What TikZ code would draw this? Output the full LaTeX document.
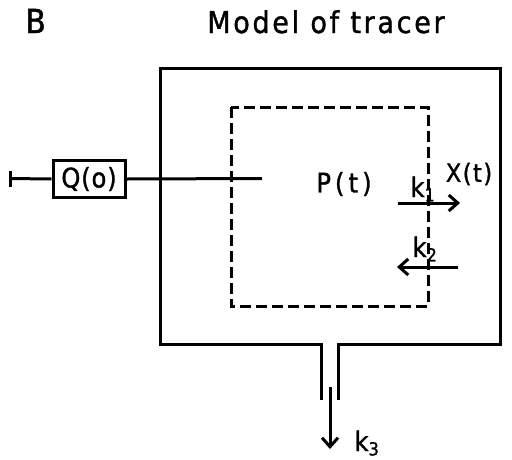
\documentclass[tikz,border=0pt]{standalone}
\usepackage{fontspec}
\setmainfont[FakeBold=1.2]{DejaVu Sans Condensed}
\newfontfamily\titlefont[LetterSpace=9,FakeBold=1.2]{DejaVu Sans Condensed}
\usetikzlibrary{arrows.meta}
\newcommand{\ksub}[1]{k\raisebox{-0.3ex}{\fontsize{18}{18}\selectfont #1}}
\begin{document}
\begin{tikzpicture}[x=1pt,y=-1pt,line width=3pt,
  txt/.style={inner sep=0pt},
  titletxt/.style={txt,font=\titlefont\fontsize{30}{30}\selectfont},
  lbl/.style={txt,font=\fontsize{26}{26}\selectfont},
  klbl/.style={txt,font=\fontsize{27}{27}\selectfont},
  dashrect/.style={dash pattern=on 11pt off 5pt},
  arr/.style={-{Straight Barb[length=9pt,width=16pt]}}]
\useasboundingbox (0,0) rectangle (512,459);
% titles
\node[txt,anchor=base west,font=\fontsize{33}{33}\selectfont] (b) at (24,33) {B};
\node[titletxt,anchor=base] (title) at (326,33) {Model of tracer};
% outer compartment with outlet
\draw[line join=miter] (321,400) -- (321,344) -- (160,344) -- (160,68) -- (500,68) -- (500,344) -- (338,344) -- (338,400);
% inner dashed compartment
\draw[dashrect] (231,107) rectangle (428,306);
% input
\coordinate (tb) at (10,178.5);
\coordinate (pend) at (262,178.5);
\node[draw,minimum width=72pt,minimum height=37pt,inner sep=0pt,lbl,font=\addfontfeature{LetterSpace=3}\fontsize{27}{27}\selectfont] (q) at (89,179) {Q(o)};
\draw (tb) ++(0,-8) -- ++(0,16);
\draw (tb) -- (q.west);
\draw (q.east) -- (pend);
% labels
\node[lbl,font=\addfontfeature{LetterSpace=15}\fontsize{27}{27}\selectfont] (p) at (344,184) {P(t)};
\node[lbl,font=\addfontfeature{LetterSpace=6}\fontsize{25}{25}\selectfont] (x) at (469,174) {X(t)};
% exchange arrows
\coordinate (a1s) at (398,203);
\coordinate (a1e) at (460,203);
\draw[arr] (a1s) -- (a1e);
\node[klbl,anchor=base west] (k1) at (409,197) {\ksub{1}};
\coordinate (a2s) at (458,267);
\coordinate (a2e) at (397,267);
\draw[arr] (a2s) -- (a2e);
\node[klbl,anchor=base west] (k2) at (411,257) {\ksub{2}};
% outlet arrow
\coordinate (a3s) at (330,387);
\coordinate (a3e) at (330,449);
\draw[arr] (a3s) -- (a3e);
\node[klbl,anchor=base west] (k3) at (353,451) {\ksub{3}};
\end{tikzpicture}
\end{document}
